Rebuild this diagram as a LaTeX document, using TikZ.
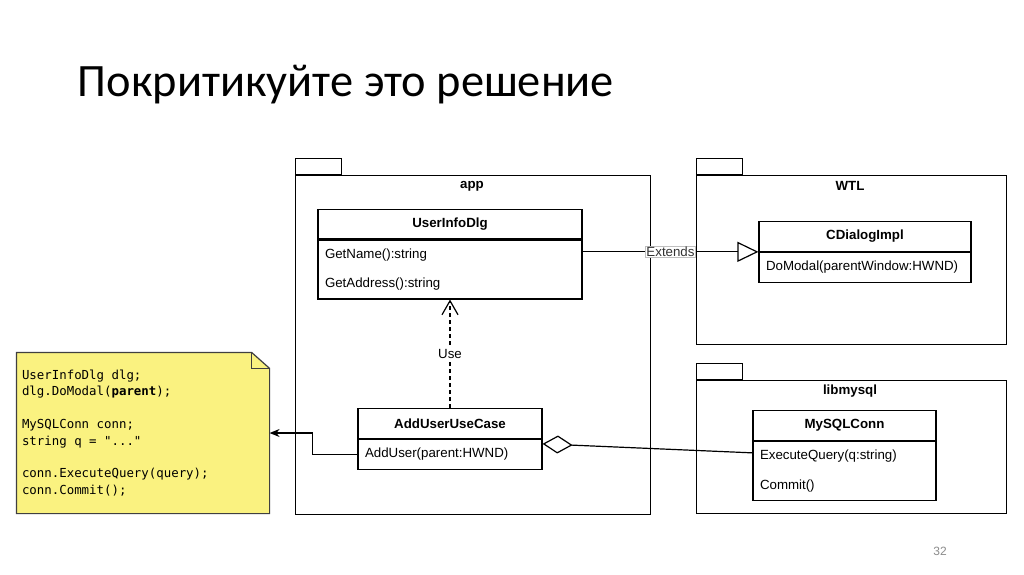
\documentclass[tikz,border=0pt]{standalone}
\usepackage{fontspec}
\setmainfont{Liberation Sans}
\setmonofont{DejaVu Sans Mono}
\newfontfamily\titlefont{Carlito}
\usepackage{tikz}
\usetikzlibrary{positioning, arrows.meta, calc}
\definecolor{note_yellow}{RGB}{250,242,128}
\definecolor{pg_gray}{RGB}{140,140,140}
\newcommand{\umlsize}{\fontsize{13.3}{16}\selectfont}
\newcommand{\codesize}{\ttfamily\fontsize{12.4}{16.4}\selectfont}
\newcommand{\monospaces}{\spaceskip=\fontcharwd\font`a\xspaceskip=\spaceskip}

\begin{document}
\begin{tikzpicture}[x=1pt, y=-1pt, >=Stealth, line width=1.2pt,
      pkg/.style={draw, line width=1.4pt, anchor=north west, inner sep=0pt},
      pkgtab/.style={draw, line width=1.4pt, anchor=south west, inner sep=0pt,
        minimum width=46pt, minimum height=16pt},
      pkgname/.style={font=\umlsize\bfseries, inner sep=0pt},
      clshead/.style={draw, fill=white, font=\umlsize\bfseries, minimum height=29.5pt, inner sep=0pt},
      clsbody/.style={draw, fill=white, font=\fontsize{13.3}{29.5}\selectfont, align=left,
        anchor=north, inner xsep=7pt, inner ysep=0pt, text width=#1},
      lbl/.style={font=\umlsize, fill=white, inner sep=1pt}]
    \useasboundingbox[fill=white] (0,0) rectangle (1024,574);
    \node[anchor=west, font=\titlefont\fontsize{46.4}{52}\selectfont] (title) at (74,85) {Покритикуйте это решение};
    % packages
    \node[pkg, minimum width=355pt, minimum height=339pt] (app) at (295,175) {};
    \node[pkg, minimum width=310pt, minimum height=169pt] (wtl) at (696,175) {};
    \node[pkg, minimum width=310pt, minimum height=133pt] (lib) at (696,380) {};
    \foreach \p in {app, wtl, lib} \node[pkgtab] (\p Tab) at (\p.north west) {};
    \node[pkgname] (appName) at (472,186) {app};
    \node[pkgname] (wtlName) at (850,186) {WTL};
    \node[pkgname] (libName) at (850,391) {libmysql};
    % classes
    \node[clshead, minimum width=264pt] (uidH) at (450,224) {UserInfoDlg};
    \node[clsbody=250pt, minimum height=59pt] (uidB) at (uidH.south) {GetName():string\\GetAddress():string};
    \node[clshead, minimum width=212pt] (cdiH) at (865,236.5) {CDialogImpl};
    \node[clsbody=198pt, minimum height=30pt] (cdiB) at (cdiH.south) {DoModal(parentWindow:HWND)};
    \node[clshead, minimum width=184pt] (aucH) at (450,423.5) {AddUserUseCase};
    \node[clsbody=170pt, minimum height=30pt] (aucB) at (aucH.south) {AddUser(parent:HWND)};
    \node[clshead, minimum width=183pt] (mscH) at (844.5,425.5) {MySQLConn};
    \node[clsbody=169pt, minimum height=59pt] (mscB) at (mscH.south) {ExecuteQuery(q:string)\\Commit()};
    % note
    \node[minimum width=252pt, minimum height=160pt, inner sep=0pt] (note) at (143,433) {};
    \draw[fill=note_yellow, draw=black!75] (note.north west) -- ($(note.north east)+(-18,0)$)
      -- ($(note.north east)+(0,16)$) -- (note.south east) -- (note.south west) -- cycle;
    \draw[draw=black!75] ($(note.north east)+(-18,0)$) |- ($(note.north east)+(0,16)$);
    \node[align=left, text width=242pt, inner xsep=5pt, font=\codesize] (noteText) at (note)
      {\monospaces UserInfoDlg dlg;\\ dlg.DoModal(\textbf{parent});\\[16.4pt] MySQLConn conn;\\ string q = "..."\\[16.4pt]
       conn.ExecuteQuery(query);\\ conn.Commit();};
    % connectors
    \draw[-{Triangle[open, length=21pt, width=20pt]}] (cdiH.south west -| uidB.east) -- (cdiH.south west)
      node[lbl, pos=0.5, draw=black!25, line width=0.6pt, text=black!80] (ext) {Extends};
    \draw[dashed, dash pattern=on 4pt off 3pt, -{Straight Barb[length=14pt, width=16pt]}] (aucH.north) -- (uidB.south)
      node[lbl, pos=0.5] (use) {Use};
    \draw[{Diamond[open, length=30pt, width=18pt]}-] ($(aucB.north east)+(0,5)$) -- ($(mscB.north west)+(0,12)$);
    \draw[-{Stealth[length=10pt, width=8pt]}] (aucB.west) -- ++(-45,0) |- (note.east);
    \node[font=\fontsize{12}{14}\selectfont, text=pg_gray] (pgnum) at (940,551) {32};
  \end{tikzpicture}
\end{document}
